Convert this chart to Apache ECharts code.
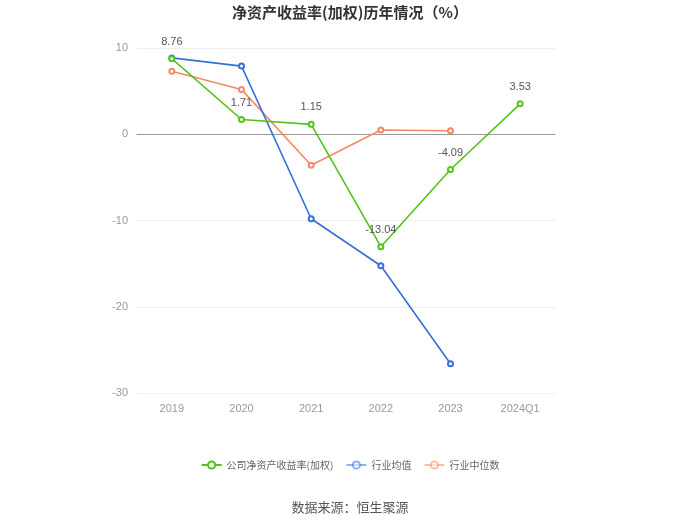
<!DOCTYPE html>
<html><head><meta charset="utf-8">
<script src="https://cdn.jsdelivr.net/npm/echarts@6/dist/echarts.min.js"></script>
<style>html,body{margin:0;padding:0;background:#fff}#c{width:700px;height:524px}</style>
</head><body><div id="c"></div>
<script>
const categories = ['2019','2020','2021','2022','2023','2024Q1'];
const companyRoe = [8.76, 1.71, 1.15, -13.04, -4.09, 3.53];
const industryAvg = [8.85, 7.9, -9.8, -15.25, -26.6, null];
const industryMedian = [7.3, 5.2, -3.6, 0.5, 0.4, null];
const yTicks = [-30, -20, -10, 0, 10];

const chart = echarts.init(document.getElementById('c'));
const font = '"Microsoft YaHei","Noto Sans CJK SC",sans-serif';
chart.setOption({
  animation: false,
  title: { text: '净资产收益率(加权)历年情况（%）', left: 'center', top: 0,
    textStyle: { fontSize: 15, fontWeight: 'bold', color: '#333', fontFamily: font } },
  grid: { left: 137, right: 145, top: 48, bottom: 131 },
  legend: { bottom: 49, left: 'center', itemWidth: 20, itemHeight: 9, itemGap: 12,
    textStyle: { fontSize: 10, color: '#666', fontFamily: font },
    data: [
      { name: '公司净资产收益率(加权)' },
      { name: '行业均值', itemStyle: { opacity: 0.55 }, lineStyle: { opacity: 0.55 } },
      { name: '行业中位数', itemStyle: { opacity: 0.55 }, lineStyle: { opacity: 0.55 } }
    ] },
  graphic: [{ type: 'text', left: 'center', top: 501,
    style: { text: '数据来源：恒生聚源', fontSize: 13, fill: '#555', fontFamily: font } }],
  xAxis: { type: 'category', data: categories, boundaryGap: true,
    axisLine: { lineStyle: { color: '#999' } },
    axisTick: { alignWithLabel: true, lineStyle: { color: '#999' } },
    axisLabel: { color: '#999', fontSize: 11, margin: 10 } },
  yAxis: { type: 'value', min: yTicks[0], max: yTicks[yTicks.length-1], interval: 10,
    axisLine: { show: false }, axisTick: { show: false },
    axisLabel: { color: '#999', fontSize: 11, margin: 9 },
    splitLine: { lineStyle: { color: '#eee' } } },
  series: [
    { name: '公司净资产收益率(加权)', type: 'line', data: companyRoe, z: 3,
      symbol: 'emptyCircle', symbolSize: 5,
      itemStyle: { color: '#52c41a' }, lineStyle: { width: 1.6 },
      label: { show: true, position: 'top', color: '#555', fontSize: 11, distance: 8 } },
    { name: '行业均值', type: 'line', data: industryAvg, z: 2,
      symbol: 'emptyCircle', symbolSize: 5,
      itemStyle: { color: '#3470dc' }, lineStyle: { width: 1.6 } },
    { name: '行业中位数', type: 'line', data: industryMedian, z: 1,
      symbol: 'emptyCircle', symbolSize: 5,
      itemStyle: { color: '#f28a63' }, lineStyle: { width: 1.6 } }
  ]
});
</script></body></html>
